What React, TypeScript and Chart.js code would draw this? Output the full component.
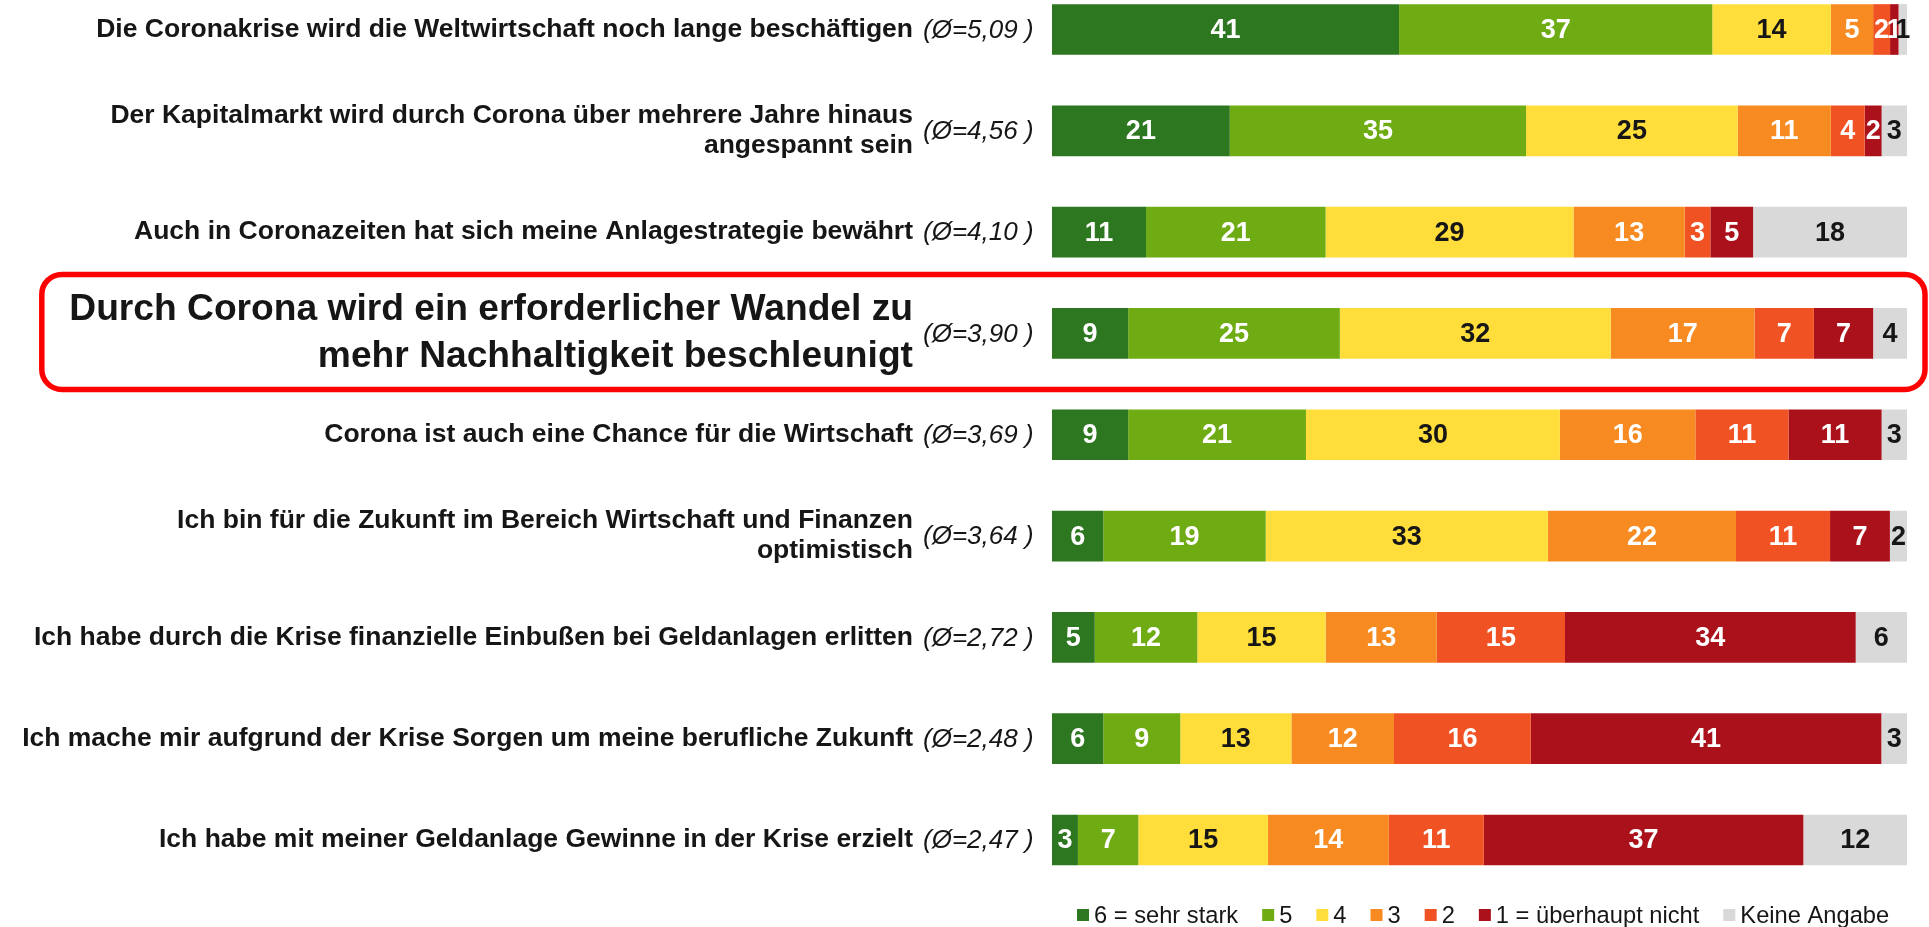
import React, { useEffect, useRef } from "react";
import { Chart, registerables } from "chart.js";

Chart.register(...registerables);

const statements: (string | string[])[] = [
  "Die Coronakrise wird die Weltwirtschaft noch lange beschäftigen",
  ["Der Kapitalmarkt wird durch Corona über mehrere Jahre hinaus", "angespannt sein"],
  "Auch in Coronazeiten hat sich meine Anlagestrategie bewährt",
  ["Durch Corona wird ein erforderlicher Wandel zu", "mehr Nachhaltigkeit beschleunigt"],
  "Corona ist auch eine Chance für die Wirtschaft",
  ["Ich bin für die Zukunft im Bereich Wirtschaft und Finanzen", "optimistisch"],
  "Ich habe durch die Krise finanzielle Einbußen bei Geldanlagen erlitten",
  "Ich mache mir aufgrund der Krise Sorgen um meine berufliche Zukunft",
  "Ich habe mit meiner Geldanlage Gewinne in der Krise erzielt",
];

const averages = ["5,09", "4,56", "4,10", "3,90", "3,69", "3,64", "2,72", "2,48", "2,47"];
const highlightIndex = 3;

const seriesLabels = ["6 = sehr stark", "5", "4", "3", "2", "1 = überhaupt nicht", "Keine Angabe"];
const seriesColors = ["#2C771F", "#6FAC14", "#FFDE3B", "#F78B22", "#F05224", "#AA111A", "#D9D9D9"];
const valueTextColors = ["#ffffff", "#ffffff", "#161616", "#ffffff", "#ffffff", "#ffffff", "#161616"];

const s6 = [41, 21, 11, 9, 9, 6, 5, 6, 3];
const s5 = [37, 35, 21, 25, 21, 19, 12, 9, 7];
const s4 = [14, 25, 29, 32, 30, 33, 15, 13, 15];
const s3 = [5, 11, 13, 17, 16, 22, 13, 12, 14];
const s2 = [2, 4, 3, 7, 11, 11, 15, 16, 11];
const s1 = [1, 2, 5, 7, 11, 7, 34, 41, 37];
const sk = [1, 3, 18, 4, 3, 2, 6, 3, 12];

const seriesValues = [s6, s5, s4, s3, s2, s1, sk];

const FONT = "'Liberation Sans', Arial, Helvetica, sans-serif";
const TEXT = "#161616";

export default function App() {
  const canvasRef = useRef<HTMLCanvasElement | null>(null);

  useEffect(() => {
    const canvas = canvasRef.current;
    if (!canvas) return;

    const rowTotals = statements.map((_, i) => seriesValues.reduce((a, s) => a + s[i], 0));

    const valueLabels = {
      id: "valueLabels",
      afterDatasetsDraw(chart: any) {
        const ctx = chart.ctx;
        ctx.save();
        ctx.font = `bold 27px ${FONT}`;
        ctx.textAlign = "center";
        ctx.textBaseline = "middle";
        chart.data.datasets.forEach((_ds: any, di: number) => {
          const meta = chart.getDatasetMeta(di);
          meta.data.forEach((el: any, i: number) => {
            const p = el.getProps(["x", "base", "y"], true);
            ctx.fillStyle = valueTextColors[di];
            ctx.fillText(String(seriesValues[di][i]), (p.x + p.base) / 2, p.y + 1);
          });
        });
        ctx.restore();
      },
    };

    const extras = {
      id: "extras",
      afterDraw(chart: any) {
        const ctx = chart.ctx;
        const yScale = chart.scales.y;
        const area = chart.chartArea;
        ctx.save();
        // averages
        ctx.font = `italic 26px ${FONT}`;
        ctx.fillStyle = TEXT;
        ctx.textAlign = "left";
        ctx.textBaseline = "middle";
        averages.forEach((a, i) => {
          const y = yScale.getPixelForValue(i);
          ctx.fillText(`(Ø=${a} )`, area.left - 129, y + 1);
        });
        // highlight box
        const cy = yScale.getPixelForValue(highlightIndex);
        const top = cy - 59;
        const bottom = cy + 56;
        const left = 41.8;
        const right = chart.width - 4;
        const r = 20;
        ctx.beginPath();
        ctx.moveTo(left + r, top);
        ctx.lineTo(right - r, top);
        ctx.arcTo(right, top, right, top + r, r);
        ctx.lineTo(right, bottom - r);
        ctx.arcTo(right, bottom, right - r, bottom, r);
        ctx.lineTo(left + r, bottom);
        ctx.arcTo(left, bottom, left, bottom - r, r);
        ctx.lineTo(left, top + r);
        ctx.arcTo(left, top, left + r, top, r);
        ctx.closePath();
        ctx.strokeStyle = "#FF0000";
        ctx.lineWidth = 5.5;
        ctx.stroke();
        // legend
        ctx.font = `23.7px ${FONT}`;
        ctx.textBaseline = "middle";
        let x = 1077;
        const ly = area.bottom + 75;
        seriesLabels.forEach((lab, i) => {
          ctx.fillStyle = seriesColors[i];
          ctx.fillRect(x, ly - 6, 12, 12);
          ctx.fillStyle = TEXT;
          ctx.fillText(lab, x + 17, ly + 1);
          x += 17 + ctx.measureText(lab).width + 24;
        });
        ctx.restore();
      },
    };

    const chart = new Chart(canvas, {
      type: "bar",
      data: {
        labels: statements as any,
        datasets: seriesValues.map((s, di) => ({
          label: seriesLabels[di],
          data: s.map((v, i) => (v / rowTotals[i]) * 100),
          backgroundColor: seriesColors[di],
          borderWidth: 0,
          barPercentage: 0.5,
          categoryPercentage: 1,
          clip: false as any,
        })),
      },
      options: {
        indexAxis: "y",
        responsive: false,
        animation: false,
        devicePixelRatio: 1,
        layout: { padding: { left: 0, top: 29.5, right: 22, bottom: 87 } },
        plugins: {
          legend: { display: false },
          tooltip: { enabled: false },
        },
        scales: {
          x: {
            stacked: true,
            min: 0,
            max: 100,
            display: false,
          },
          y: {
            stacked: true,
            offset: false,
            grid: { display: false, drawTicks: false },
            border: { display: false },
            ticks: {
              autoSkip: false,
              padding: 139,
              color: TEXT,
              font: (c: any) =>
                c.index === highlightIndex
                  ? { family: FONT, size: 37.2, weight: "bold", lineHeight: 1.25 }
                  : { family: FONT, size: 26.5, weight: "bold", lineHeight: 1.13 },
            },
            afterFit: (scale: any) => {
              scale.width = 1052;
              scale.paddingTop = 0;
              scale.paddingBottom = 0;
            },
          },
        },
      } as any,
      plugins: [valueLabels, extras],
    });

    return () => chart.destroy();
  }, []);

  return (
    <div style={{ position: "absolute", left: 0, top: 0, width: 1929, height: 927 }}>
      <canvas ref={canvasRef} width={1929} height={927} style={{ display: "block" }} />
    </div>
  );
}
